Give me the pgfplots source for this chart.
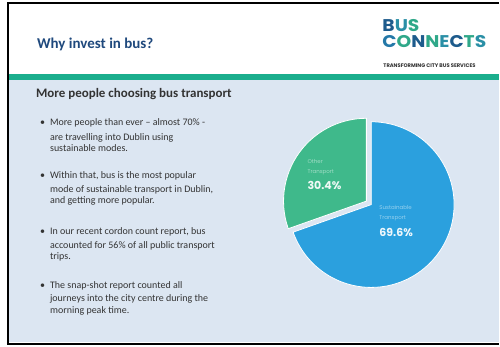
\documentclass[border=0pt]{standalone}
\usepackage{pgfplots}
\pgfplotsset{compat=1.18}
\usepackage{pgfplotstable}
\usepackage{fontspec}
\setmainfont{Carlito}
\newfontfamily\logofont{Poppins}
\definecolor{bodybg}{HTML}{DCE6F2}
\definecolor{tealband}{HTML}{1BAE8D}
\definecolor{titlec}{HTML}{1F497D}
\definecolor{textc}{HTML}{333333}
\definecolor{piblue}{HTML}{2BA0DE}
\definecolor{pigreen}{HTML}{3FB98B}
\definecolor{lgA}{HTML}{1D5B8C}
\definecolor{lgB}{HTML}{2A8FA6}
\definecolor{lgC}{HTML}{2FA889}
\definecolor{lgD}{HTML}{2478A8}
\pgfplotstableread{
share
69.6
30.4
}\piedata
\pgfplotstablegetelem{0}{share}\of\piedata \let\sus\pgfplotsretval
\pgfplotstablegetelem{1}{share}\of\piedata \let\oth\pgfplotsretval
\pgfmathsetmacro\susend{90-3.6*\sus}
\pgfmathsetmacro\othstart{360+\susend}
\pgfmathsetmacro\othmid{(\othstart+90)/2}
\pgfmathsetmacro\gx{372+6*cos(\othmid)}
\pgfmathsetmacro\gy{142+6*sin(\othmid)}
\begin{document}
\begin{tikzpicture}
\begin{axis}[x=1pt,y=1pt,xmin=0,xmax=500,ymin=0,ymax=347,hide axis,clip=false,scale only axis]
% backgrounds
\fill[white] (0,0) rectangle (500,347);
\fill[white] (9,273) rectangle (500,343);
\fill[tealband] (9,267) rectangle (500,273);
\fill[bodybg] (9,4) rectangle (500,267);
\draw[black,line width=2pt] (8,3) -- (8,344) -- (500,344);
\draw[black,line width=2pt] (7,2) -- (500,2);
% title
\node[anchor=base west,font=\fontsize{15}{15}\selectfont\bfseries,text=titlec,inner sep=0] at (37,298) {Why invest in bus?};
% logo
\node[anchor=base west,font=\logofont\fontsize{17}{17}\selectfont\bfseries,inner sep=0,xscale=1.1] at (383,315) {\textcolor{lgA}{B}\textcolor{lgB}{U}\textcolor{lgC}{S}};
\node[anchor=base west,font=\logofont\fontsize{17}{17}\selectfont\bfseries,inner sep=0,xscale=1.1] at (383,299) {\textcolor{lgD}{C}\textcolor{lgC}{O}\textcolor{lgA}{N}\textcolor{lgC}{N}\textcolor{lgB}{E}\textcolor{lgA}{C}\textcolor{lgC}{T}\textcolor{lgB}{S}};
\node[anchor=base west,font=\logofont\fontsize{5.2}{5.2}\selectfont\bfseries,text=textc,inner sep=0] at (384,279) {TRANSFORMING CITY BUS SERVICES};
% subtitle
\node[anchor=base west,font=\fontsize{13}{13}\selectfont\bfseries,text=textc,inner sep=0] at (36,249) {More people choosing bus transport};
% bullets
\begin{scope}[every node/.style={anchor=base west,font=\fontsize{10}{10}\selectfont,text=textc,inner sep=0}]
\node at (40,221) {•};\node at (50,221) {More people than ever – almost 70\% -};
\node at (50,206) {are travelling into Dublin using};
\node at (50,195) {sustainable modes.};
\node at (40,168) {•};\node at (50,168) {Within that, bus is the most popular};
\node at (50,154) {mode of sustainable transport in Dublin,};
\node at (50,143) {and getting more popular.};
\node at (40,112) {•};\node at (50,112) {In our recent cordon count report, bus};
\node at (50,98) {accounted for 56\% of all public transport};
\node at (50,87) {trips.};
\node at (40,58) {•};\node at (50,58) {The snap-shot report counted all};
\node at (50,45) {journeys into the city centre during the};
\node at (50,33) {morning peak time.};
\end{scope}
% pie
\fill[piblue,draw=white,line width=0.8pt] (372,142) -- ++(90:83pt) arc[start angle=90,end angle=\susend,radius=83pt] -- cycle;
\fill[pigreen,draw=white,line width=0.8pt] (\gx,\gy) -- ++(\othstart:83pt) arc[start angle=\othstart,end angle=90,radius=83pt] -- cycle;
% pie labels
\begin{scope}[every node/.style={anchor=base west,inner sep=0}]
\node[font=\logofont\fontsize{5.5}{5.5}\selectfont,text=white!50!pigreen] at (308,183) {Other};
\node[font=\logofont\fontsize{5.5}{5.5}\selectfont,text=white!50!pigreen] at (308,173) {Transport};
\node[font=\logofont\fontsize{11}{11}\selectfont\bfseries,text=white!92!pigreen] at (308,157) {30.4\%};
\node[font=\logofont\fontsize{5.5}{5.5}\selectfont,text=white!50!piblue] at (380,137) {Sustainable};
\node[font=\logofont\fontsize{5.5}{5.5}\selectfont,text=white!50!piblue] at (380,127) {Transport};
\node[font=\logofont\fontsize{11}{11}\selectfont\bfseries,text=white!92!piblue] at (380,110) {69.6\%};
\end{scope}
\end{axis}
\end{tikzpicture}
\end{document}
